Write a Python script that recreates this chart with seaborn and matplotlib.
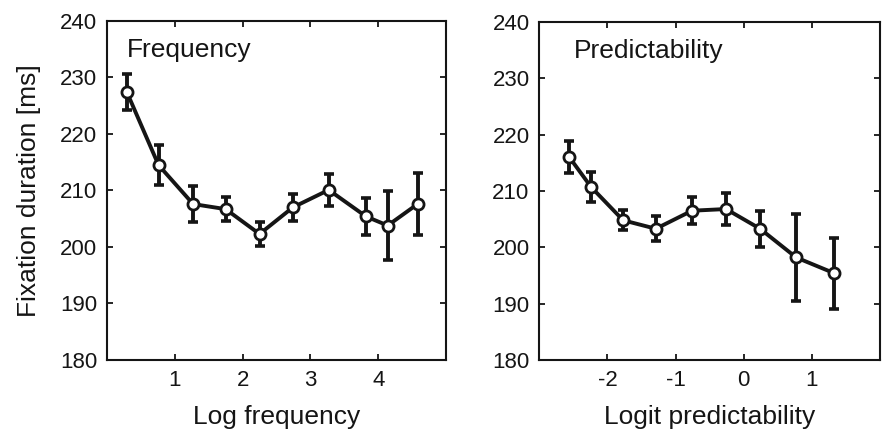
import numpy as np
import pandas as pd
import seaborn as sns
import matplotlib.pyplot as plt

# DATA
freq_x = [0.29, 0.76, 1.27, 1.75, 2.25, 2.74, 3.27, 3.82, 4.14, 4.58]
freq_y = [227.5, 214.5, 207.6, 206.7, 202.3, 207.0, 210.1, 205.4, 203.8, 207.6]
freq_err = [3.2, 3.5, 3.2, 2.1, 2.2, 2.4, 2.8, 3.2, 6.1, 5.5]

pred_x = [-2.56, -2.24, -1.77, -1.29, -0.76, -0.26, 0.24, 0.77, 1.33]
pred_y = [216.0, 210.7, 204.8, 203.3, 206.5, 206.8, 203.3, 198.2, 195.4]
pred_err = [2.8, 2.6, 1.8, 2.2, 2.4, 2.9, 3.2, 7.8, 6.3]

freq_ticks = [1, 2, 3, 4]
pred_ticks = [-2, -1, 0, 1]
y_ticks = [180, 190, 200, 210, 220, 230, 240]

# PLOT SETTING
sns.set_theme(style="ticks")
plt.rcParams['font.family'] = ['Liberation Sans', 'DejaVu Sans']
plt.rcParams['axes.linewidth'] = 1.5
plt.rcParams['axes.unicode_minus'] = False
plt.rcParams['xtick.direction'] = 'in'
plt.rcParams['ytick.direction'] = 'in'

ink = "#151515"

fig = plt.figure(figsize=(8.82, 4.30), dpi=100)
ax1 = fig.add_axes([0.1213, 0.1628, 0.3844, 0.7884])
ax2 = fig.add_axes([0.6115, 0.1628, 0.3862, 0.7860])


def draw_panel(ax, x, y, err, xlim, xticks, xlabel, title, title_x):
    df = pd.DataFrame({"x": x, "y": y, "err": err})
    ax.errorbar(df["x"], df["y"], yerr=df["err"], fmt="none", ecolor=ink,
                elinewidth=2.8, capsize=3.5, capthick=2.6, zorder=2)
    sns.lineplot(data=df, x="x", y="y", ax=ax, color=ink, linewidth=2.8,
                 marker="o", markersize=8, markerfacecolor="white",
                 markeredgecolor=ink, markeredgewidth=2.0, zorder=3)
    ax.set_xlim(*xlim)
    ax.set_ylim(180, 240)
    ax.set_xticks(xticks)
    ax.set_yticks(y_ticks)
    ax.tick_params(axis="both", which="both", top=True, right=True, length=4,
                   width=1.3, labelsize=16, colors=ink, pad=7)
    ax.set_xlabel(xlabel, fontsize=19, color=ink, labelpad=10)
    ax.set_ylabel("")
    ax.text(title_x, 0.95, title, transform=ax.transAxes, fontsize=19,
            color=ink, va="top", ha="left")
    for s in ax.spines.values():
        s.set_color(ink)


draw_panel(ax1, freq_x, freq_y, freq_err, (0, 5), freq_ticks, "Log frequency", "Frequency", 0.06)
draw_panel(ax2, pred_x, pred_y, pred_err, (-3, 2), pred_ticks, "Logit predictability", "Predictability", 0.10)
ax1.set_ylabel("Fixation duration [ms]", fontsize=19, color=ink, labelpad=14)

plt.savefig("out.png", dpi=100)
plt.close()
